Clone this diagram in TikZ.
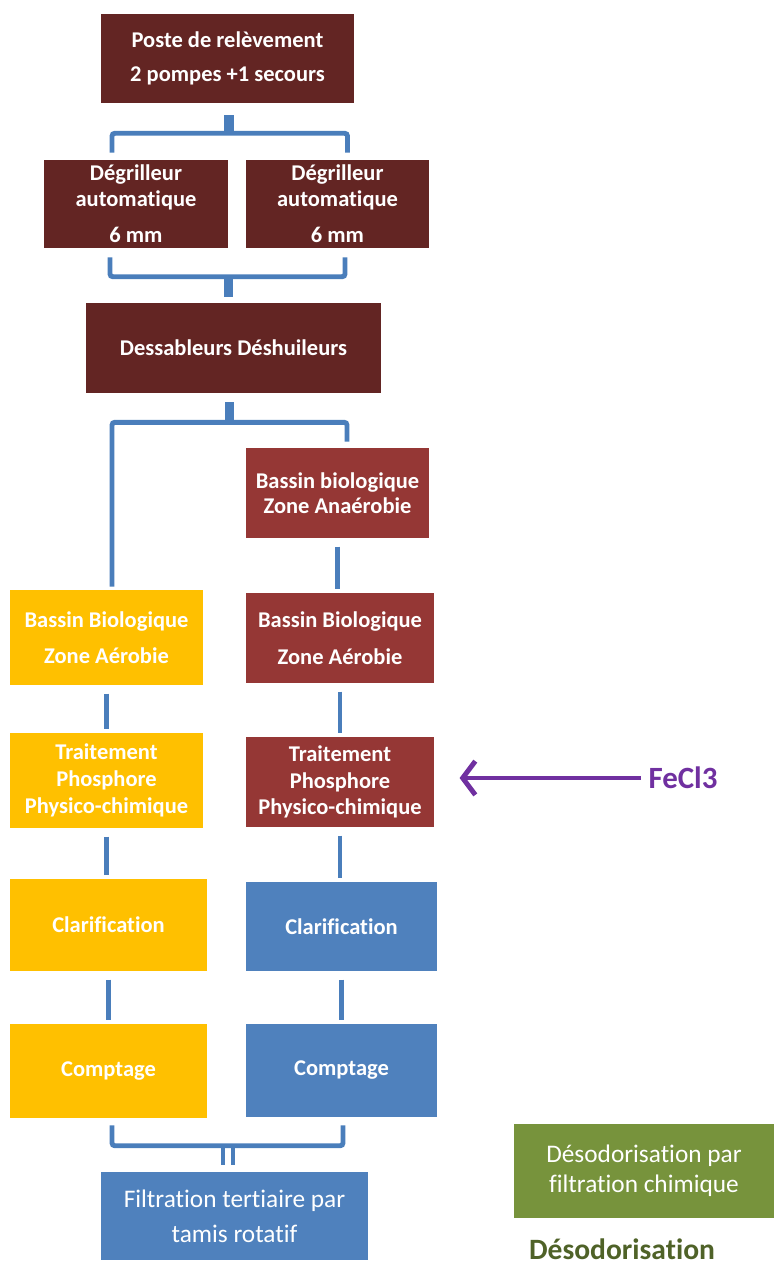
\documentclass[tikz,border=0pt]{standalone}
\usepackage{fontspec}
\setmainfont[Ligatures=NoCommon]{Carlito}
\usepackage{tikz}
\usepackage{xcolor}
\usetikzlibrary{calc,arrows.meta}
\definecolor{maroon}{HTML}{632523}
\definecolor{brick}{HTML}{953735}
\definecolor{amber}{HTML}{FFC000}
\definecolor{steel}{HTML}{4F81BD}
\definecolor{moss}{HTML}{77933C}
\definecolor{pipeblue}{HTML}{4A7EBB}
\definecolor{violet}{HTML}{7030A0}
\definecolor{darkmoss}{HTML}{4F6228}
\newcommand\px{0.025cm}

\begin{document}
\begin{tikzpicture}[x=0.025cm,y=-0.025cm,
  box/.style={rectangle,inner sep=0pt,align=center,text=white,
    font=\bfseries\fontsize{16}{24}\selectfont},
  pipe/.style={draw=pipeblue,line width=3.5pt,rounded corners=2pt},
  stub/.style={draw=pipeblue,line width=6.5pt},
  feed/.style={draw=violet,line width=3.5pt,-{Straight Barb[length=9pt,width=24pt]}}]
  \useasboundingbox (0,0) rectangle (774,1265);

  \node (poste) at (227.5,58.5)[box,fill=maroon,minimum width=253*\px,minimum height=89*\px]{Poste de relèvement\\2 pompes +1 secours};
  \node (degL) at (136,204)[box,fill=maroon,minimum width=184*\px,minimum height=88*\px,font=\bfseries\fontsize{16}{18}\selectfont]{Dégrilleur\\automatique\\[8pt]6 mm};
  \node (degR) at (337.5,204)[box,fill=maroon,minimum width=183*\px,minimum height=88*\px,font=\bfseries\fontsize{16}{18}\selectfont]{Dégrilleur\\automatique\\[8pt]6 mm};
  \node (dess) at (233.5,348)[box,fill=maroon,minimum width=295*\px,minimum height=90*\px]{Dessableurs Déshuileurs};
  \node (anae) at (337.5,493)[box,fill=brick,minimum width=183*\px,minimum height=90*\px,font=\bfseries\fontsize{16}{18}\selectfont]{Bassin biologique\\Zone Anaérobie};

  \node (aeroL) at (106.5,637.5)[box,fill=amber,minimum width=193*\px,minimum height=95*\px,font=\bfseries\fontsize{16}{26}\selectfont]{Bassin Biologique\\Zone Aérobie};
  \node (aeroR) at (340,638)[box,fill=brick,minimum width=188*\px,minimum height=90*\px,font=\bfseries\fontsize{16}{26}\selectfont]{Bassin Biologique\\Zone Aérobie};
  \node (traitL) at (106.5,780.5)[box,fill=amber,minimum width=193*\px,minimum height=95*\px,font=\bfseries\fontsize{16}{19}\selectfont]{Traitement\\Phosphore\\Physico-chimique};
  \node (traitR) at (340,782)[box,fill=brick,minimum width=188*\px,minimum height=90*\px,font=\bfseries\fontsize{16}{19}\selectfont]{Traitement\\Phosphore\\Physico-chimique};
  \node (clarL) at (108.5,925)[box,fill=amber,minimum width=197*\px,minimum height=92*\px]{Clarification};
  \node (clarR) at (341.5,926.5)[box,fill=steel,minimum width=191*\px,minimum height=89*\px]{Clarification};
  \node (compL) at (108.5,1071)[box,fill=amber,minimum width=197*\px,minimum height=94*\px]{Comptage};
  \node (compR) at (341.5,1070.5)[box,fill=steel,minimum width=191*\px,minimum height=93*\px]{Comptage};
  \node (filt) at (234.5,1216)[box,fill=steel,minimum width=267*\px,minimum height=88*\px,font=\fontsize{18}{25}\selectfont]{Filtration tertiaire par\\tamis rotatif};

  \node (deso) at (644,1171)[box,fill=moss,minimum width=260*\px,minimum height=94*\px,font=\fontsize{18}{21}\selectfont]{Désodorisation par\\filtration chimique};
  \node (desolabel) at (622,1249)[text=darkmoss,font=\bfseries\fontsize{21}{25}\selectfont,inner sep=0pt]{Désodorisation};
  \node (fecl) at (683,778)[text=violet,font=\bfseries\fontsize{22}{26}\selectfont,inner sep=0pt]{FeCl3};

  % brackets
  \draw [stub] ($(poste.south)+(1.5,12)$) -- ($(poste.south)+(1.5,30)$);
  \draw [pipe] ($(degL.north)+(-24,-7)$) |- ($(poste.south)+(1.5,30)$) -| ($(degR.north)+(10,-7)$);
  \draw [pipe] ($(degL.south)+(-26,9)$) |- ($(dess.north)+(-5,-26)$) -| ($(degR.south)+(7.5,9)$);
  \draw [stub] ($(dess.north)+(-5,-26)$) -- ($(dess.north)+(-5,-6)$);
  \draw [stub] ($(dess.south)+(-4,9)$) -- ($(dess.south)+(-4,29)$);
  \draw [pipe] ($(aeroL.north)+(5.5,-3)$) |- ($(dess.south)+(-4,29)$) -| ($(anae.north)+(9.5,-6)$);
  \foreach \a/\b in {anae/aeroR,aeroR/traitR,traitR/clarR,clarR/compR,aeroL/traitL,traitL/clarL,clarL/compL}
    \draw [pipe,shorten <=6pt,shorten >=3pt] (\a.south) -- (\a.south |- \b.north);
  \draw [pipe] ($(compL.south)+(3.5,7)$) |- ($(filt.north)+(-6.5,-26)$) -| ($(compR.south)+(1.5,8)$);
  \draw [pipe,line width=3pt] ($(filt.north)+(-11.5,-26)$) -- ($(filt.north)+(-11.5,-7)$);
  \draw [pipe,line width=3pt] ($(filt.north)+(-1.5,-26)$) -- ($(filt.north)+(-1.5,-7)$);

  \draw [feed,shorten <=5pt,shorten >=18pt] (fecl.west) -- (traitR.east |- fecl.west);
\end{tikzpicture}
\end{document}
